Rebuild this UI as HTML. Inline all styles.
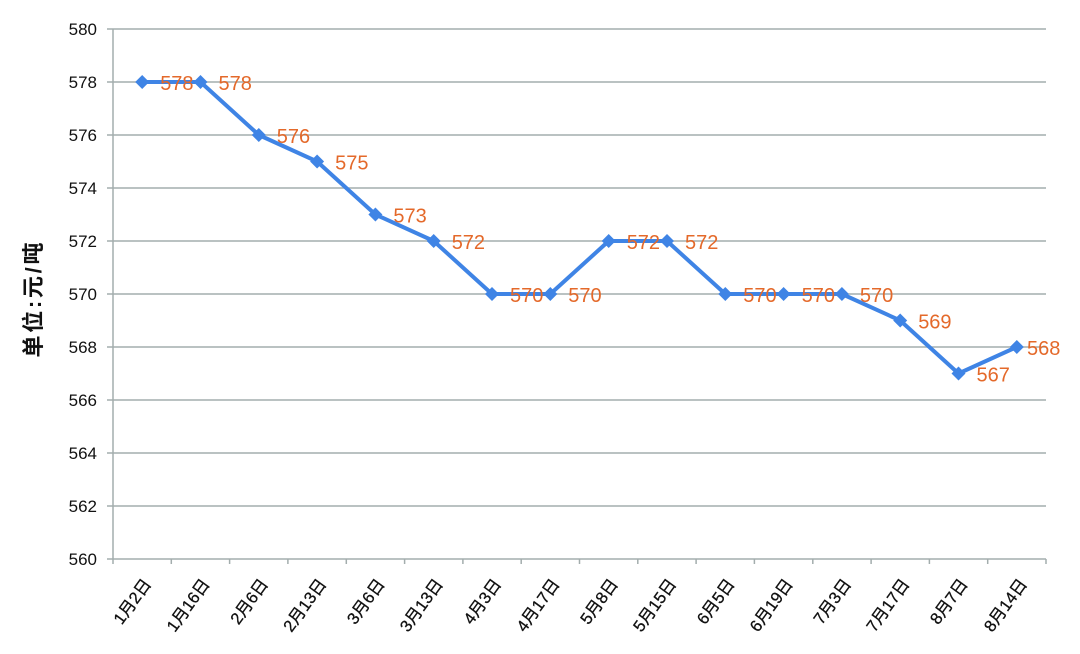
<!DOCTYPE html>
<html><head><meta charset="utf-8"><style>
html,body{margin:0;padding:0;background:#fff;}
svg{display:block;}
text{font-family:"Liberation Sans","Noto Sans CJK SC",sans-serif;}
</style></head><body>
<svg width="1080" height="654" viewBox="0 0 1080 654" xmlns="http://www.w3.org/2000/svg">
<rect width="1080" height="654" fill="#fff"/>
<g stroke="#a3adad" stroke-width="1.5">
<line x1="113" y1="29" x2="1046" y2="29"/>
<line x1="113" y1="82" x2="1046" y2="82"/>
<line x1="113" y1="135" x2="1046" y2="135"/>
<line x1="113" y1="188" x2="1046" y2="188"/>
<line x1="113" y1="241" x2="1046" y2="241"/>
<line x1="113" y1="294" x2="1046" y2="294"/>
<line x1="113" y1="347" x2="1046" y2="347"/>
<line x1="113" y1="400" x2="1046" y2="400"/>
<line x1="113" y1="453" x2="1046" y2="453"/>
<line x1="113" y1="506" x2="1046" y2="506"/>
<line x1="107" y1="559" x2="1046" y2="559"/>
<line x1="113" y1="29" x2="113" y2="564"/>
<line x1="107" y1="29" x2="113" y2="29"/>
<line x1="107" y1="82" x2="113" y2="82"/>
<line x1="107" y1="135" x2="113" y2="135"/>
<line x1="107" y1="188" x2="113" y2="188"/>
<line x1="107" y1="241" x2="113" y2="241"/>
<line x1="107" y1="294" x2="113" y2="294"/>
<line x1="107" y1="347" x2="113" y2="347"/>
<line x1="107" y1="400" x2="113" y2="400"/>
<line x1="107" y1="453" x2="113" y2="453"/>
<line x1="107" y1="506" x2="113" y2="506"/>
<line x1="171.3" y1="559" x2="171.3" y2="564"/>
<line x1="229.6" y1="559" x2="229.6" y2="564"/>
<line x1="287.9" y1="559" x2="287.9" y2="564"/>
<line x1="346.3" y1="559" x2="346.3" y2="564"/>
<line x1="404.6" y1="559" x2="404.6" y2="564"/>
<line x1="462.9" y1="559" x2="462.9" y2="564"/>
<line x1="521.2" y1="559" x2="521.2" y2="564"/>
<line x1="579.5" y1="559" x2="579.5" y2="564"/>
<line x1="637.8" y1="559" x2="637.8" y2="564"/>
<line x1="696.1" y1="559" x2="696.1" y2="564"/>
<line x1="754.4" y1="559" x2="754.4" y2="564"/>
<line x1="812.8" y1="559" x2="812.8" y2="564"/>
<line x1="871.1" y1="559" x2="871.1" y2="564"/>
<line x1="929.4" y1="559" x2="929.4" y2="564"/>
<line x1="987.7" y1="559" x2="987.7" y2="564"/>
<line x1="1046" y1="559" x2="1046" y2="564"/>
</g>
<g font-size="17" fill="#111" text-anchor="end">
<text x="97" y="35">580</text>
<text x="97" y="88">578</text>
<text x="97" y="141">576</text>
<text x="97" y="194">574</text>
<text x="97" y="247">572</text>
<text x="97" y="300">570</text>
<text x="97" y="353">568</text>
<text x="97" y="406">566</text>
<text x="97" y="459">564</text>
<text x="97" y="512">562</text>
<text x="97" y="565">560</text>
</g>
<text transform="translate(41,300) rotate(-90)" font-size="22" font-weight="bold" fill="#111" text-anchor="middle" textLength="115" lengthAdjust="spacing">单位:元/吨</text>
<g font-size="16.5" fill="#111" text-anchor="end" stroke="#111" stroke-width="0.3">
<text transform="translate(152,584) rotate(-54)">1月2日</text>
<text transform="translate(210.5,584) rotate(-54)">1月16日</text>
<text transform="translate(268.8,584) rotate(-54)">2月6日</text>
<text transform="translate(327.1,584) rotate(-54)">2月13日</text>
<text transform="translate(385.4,584) rotate(-54)">3月6日</text>
<text transform="translate(443.7,584) rotate(-54)">3月13日</text>
<text transform="translate(502,584) rotate(-54)">4月3日</text>
<text transform="translate(560.3,584) rotate(-54)">4月17日</text>
<text transform="translate(618.7,584) rotate(-54)">5月8日</text>
<text transform="translate(677,584) rotate(-54)">5月15日</text>
<text transform="translate(735.3,584) rotate(-54)">6月5日</text>
<text transform="translate(793.6,584) rotate(-54)">6月19日</text>
<text transform="translate(851.9,584) rotate(-54)">7月3日</text>
<text transform="translate(910.2,584) rotate(-54)">7月17日</text>
<text transform="translate(968.5,584) rotate(-54)">8月7日</text>
<text transform="translate(1027.8,584) rotate(-54)">8月14日</text>
</g>
<polyline fill="none" stroke="#3f84e5" stroke-width="4" stroke-linejoin="round" points="142.2,82 200.5,82 258.8,135 317.1,161.5 375.4,214.5 433.7,241 492,294 550.3,294 608.7,241 667,241 725.3,294 783.6,294 841.9,294 900.2,320.5 958.5,373.5 1016.8,347"/>
<g fill="#3f84e5">
<path d="M142.2,75 l7,7 l-7,7 l-7,-7z"/>
<path d="M200.5,75 l7,7 l-7,7 l-7,-7z"/>
<path d="M258.8,128 l7,7 l-7,7 l-7,-7z"/>
<path d="M317.1,154.5 l7,7 l-7,7 l-7,-7z"/>
<path d="M375.4,207.5 l7,7 l-7,7 l-7,-7z"/>
<path d="M433.7,234 l7,7 l-7,7 l-7,-7z"/>
<path d="M492,287 l7,7 l-7,7 l-7,-7z"/>
<path d="M550.3,287 l7,7 l-7,7 l-7,-7z"/>
<path d="M608.7,234 l7,7 l-7,7 l-7,-7z"/>
<path d="M667,234 l7,7 l-7,7 l-7,-7z"/>
<path d="M725.3,287 l7,7 l-7,7 l-7,-7z"/>
<path d="M783.6,287 l7,7 l-7,7 l-7,-7z"/>
<path d="M841.9,287 l7,7 l-7,7 l-7,-7z"/>
<path d="M900.2,313.5 l7,7 l-7,7 l-7,-7z"/>
<path d="M958.5,366.5 l7,7 l-7,7 l-7,-7z"/>
<path d="M1016.8,340 l7,7 l-7,7 l-7,-7z"/>
</g>
<g font-size="20" fill="#e4692a">
<text x="160.2" y="90">578</text>
<text x="218.5" y="90">578</text>
<text x="276.8" y="143">576</text>
<text x="335.1" y="169.5">575</text>
<text x="393.4" y="222.5">573</text>
<text x="451.7" y="249">572</text>
<text x="510" y="302">570</text>
<text x="568.3" y="302">570</text>
<text x="626.7" y="249">572</text>
<text x="685" y="249">572</text>
<text x="743.3" y="302">570</text>
<text x="801.6" y="302">570</text>
<text x="859.9" y="302">570</text>
<text x="918.2" y="328.5">569</text>
<text x="976.5" y="381.5">567</text>
<text x="1027" y="355">568</text>
</g>
</svg>
</body></html>
